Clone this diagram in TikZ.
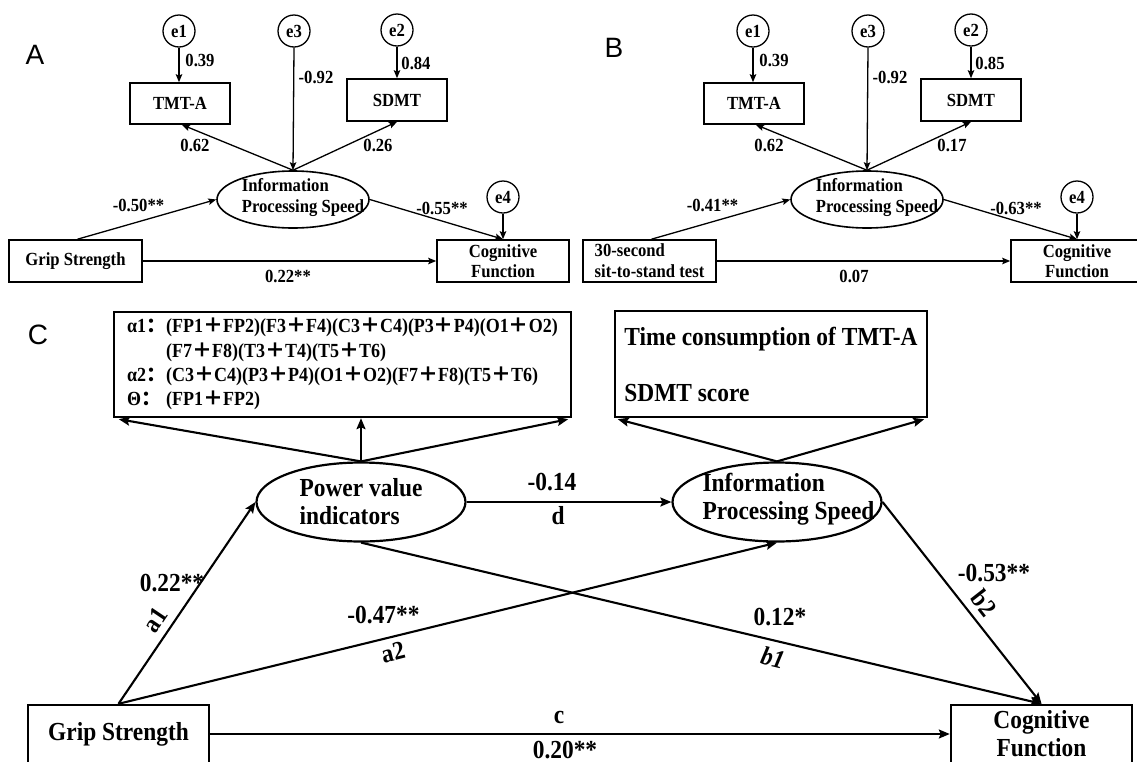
\documentclass[tikz,border=0pt]{standalone}
\usepackage{fontspec}
\setmainfont{Liberation Serif}[FakeStretch=0.9]
\setsansfont{Liberation Sans}
\newfontfamily\cjkf{Noto Sans CJK SC}
\usetikzlibrary{arrows.meta,shapes.geometric}
\newcommand{\pls}{{\cjkf ＋}}
\newcommand{\fcol}{{\cjkf ：}}
\begin{document}
\begin{tikzpicture}[x=1pt,y=-1pt,
  fA/.style={font=\fontsize{18.5}{20}\selectfont\bfseries},
  fC/.style={font=\fontsize{26}{28}\selectfont\bfseries},
  panel/.style={font=\fontsize{28}{30}\selectfont\sffamily,inner sep=0pt},
  err/.style={circle,draw,line width=1.3pt,minimum size=32pt,inner sep=0pt,fA},
  boxA/.style={draw,line width=1.6pt,inner sep=0pt,fA},
  ellA/.style={ellipse,draw,line width=1.6pt,inner sep=0pt,minimum width=152pt,minimum height=57pt},
  arA/.style={line width=1.3pt,-{Stealth[length=8pt,width=6.5pt,inset=1.5pt]}},
  lnA/.style={line width=1.3pt},
  lblA/.style={fA,inner sep=0pt},
  boxC/.style={draw,line width=2.4pt,inner sep=0pt,fC},
  ellC/.style={ellipse,draw,line width=2.2pt,inner sep=0pt,minimum width=209pt,minimum height=79pt},
  arC/.style={line width=2.1pt,-{Stealth[length=11pt,width=9pt,inset=2pt]}},
  lnC/.style={line width=2.1pt},
  lblC/.style={fC,inner sep=0pt}]
\fill[white] (0,0) rectangle (1137,761);
\useasboundingbox (0,0) rectangle (1137,761);

% ---------------- Panel A ----------------
\node[panel] (labA) at (35,55) {A};
\node[err] (e1A) at (179,31) {e1};
\node[err] (e3A) at (294,31) {e3};
\node[err] (e2A) at (397,30) {e2};
\node[boxA,minimum width=100pt,minimum height=41pt] (tmtA) at (180,103.5) {TMT-A};
\node[boxA,minimum width=100pt,minimum height=42pt] (sdmtA) at (397,100) {SDMT};
\node[ellA] (ipsA) at (293,199.5) {};
\node[lblA,align=left,font=\fontsize{18.5}{21}\selectfont\bfseries] (ipsAt) at (303,198) {Information\\Processing Speed};
\node[boxA,minimum width=133pt,minimum height=42pt] (gripA) at (75.5,261) {Grip Strength};
\node[boxA,minimum width=132pt,minimum height=42pt,align=center] (cogA) at (503,261) {Cognitive\\Function};
\node[err] (e4A) at (503,197) {e4};

\draw[arA] (e1A.south) -- (e1A.south |- tmtA.north);
\draw[arA] (e2A.south) -- (e2A.south |- sdmtA.north);
\draw[arA] (e3A.south) -- (ipsA.north);
\draw[arA] (ipsA.north) -- ([xshift=2pt]tmtA.south);
\draw[arA] (ipsA.north) -- (sdmtA.south);
\draw[arA] ([xshift=2pt]gripA.north) -- (ipsA.west);
\draw[arA] (ipsA.east) -- (cogA.north);
\draw[arA] (e4A.south) -- (cogA.north);
\draw[arA] (gripA.east) -- (cogA.west);

\node[lblA] (lA1) at (200,60) {0.39};
\node[lblA] (lA2) at (316,77) {-0.92};
\node[lblA] (lA3) at (416,63) {0.84};
\node[lblA] (lA4) at (195,145) {0.62};
\node[lblA] (lA5) at (378,145) {0.26};
\node[lblA] (lA6) at (138.5,205) {-0.50**};
\node[lblA] (lA7) at (442,208) {-0.55**};
\node[lblA] (lA8) at (288,276) {0.22**};

% ---------------- Panel B ----------------
\node[panel] (labB) at (614,48) {B};
\node[err] (e1B) at (753,31) {e1};
\node[err] (e3B) at (868,31) {e3};
\node[err] (e2B) at (971,30) {e2};
\node[boxA,minimum width=100pt,minimum height=41pt] (tmtB) at (754,103.5) {TMT-A};
\node[boxA,minimum width=100pt,minimum height=42pt] (sdmtB) at (971,100) {SDMT};
\node[ellA] (ipsB) at (867,199.5) {};
\node[lblA,align=left,font=\fontsize{18.5}{21}\selectfont\bfseries] (ipsBt) at (877,198) {Information\\Processing Speed};
\node[boxA,minimum width=133pt,minimum height=42pt,align=left,font=\fontsize{18.5}{21}\selectfont\bfseries] (stsB) at (649.5,261) {30-second\\sit-to-stand test};
\node[boxA,minimum width=132pt,minimum height=42pt,align=center] (cogB) at (1077,261) {Cognitive\\Function};
\node[err] (e4B) at (1077,197) {e4};

\draw[arA] (e1B.south) -- (e1B.south |- tmtB.north);
\draw[arA] (e2B.south) -- (e2B.south |- sdmtB.north);
\draw[arA] (e3B.south) -- (ipsB.north);
\draw[arA] (ipsB.north) -- ([xshift=2pt]tmtB.south);
\draw[arA] (ipsB.north) -- (sdmtB.south);
\draw[arA] ([xshift=2pt]stsB.north) -- (ipsB.west);
\draw[arA] (ipsB.east) -- (cogB.north);
\draw[arA] (e4B.south) -- (cogB.north);
\draw[arA] (stsB.east) -- (cogB.west);

\node[lblA] (lB1) at (774,60) {0.39};
\node[lblA] (lB2) at (890,77) {-0.92};
\node[lblA] (lB3) at (990,63) {0.85};
\node[lblA] (lB4) at (769,145) {0.62};
\node[lblA] (lB5) at (952,145) {0.17};
\node[lblA] (lB6) at (712.5,205) {-0.41**};
\node[lblA] (lB7) at (1016,208) {-0.63**};
\node[lblA] (lB8) at (854,276) {0.07};

% ---------------- Panel C ----------------
\node[panel] (labC) at (38,335) {C};
\node[boxC,minimum width=457pt,minimum height=105pt,font=\fontsize{20}{24.3}\selectfont\bfseries] (eeg) at (342.5,364.5) {%
\begin{tabular}{@{}l@{}l@{}}
α1\fcol & (FP1\pls FP2)(F3\pls F4)(C3\pls C4)(P3\pls P4)(O1\pls O2)\\
 & (F7\pls F8)(T3\pls T4)(T5\pls T6)\\
α2\fcol & (C3\pls C4)(P3\pls P4)(O1\pls O2)(F7\pls F8)(T5\pls T6)\\
Θ\fcol & (FP1\pls FP2)
\end{tabular}};
\node[boxC,minimum width=312pt,minimum height=106pt,align=left,font=\fontsize{26}{56}\selectfont\bfseries] (tests) at (771,364) {Time consumption of TMT-A\\SDMT score};

\node[ellC,fC,align=left,font=\fontsize{26}{28}\selectfont\bfseries] (pvi) at (361,502) {Power value\\indicators};
\node[ellC] (ipsC) at (777,502) {};
\node[lblC,align=left] (ipsCt) at (788.5,499) {Information\\Processing Speed};
\node[boxC,minimum width=181pt,minimum height=58pt] (gripC) at (118.5,734) {Grip Strength};
\node[boxC,minimum width=181pt,minimum height=58pt,align=center] (cogC) at (1041.5,734) {Cognitive\\Function};

\draw[arC] (pvi.north) -- ([xshift=6pt,yshift=-1pt]eeg.south west);
\draw[arC] (pvi.north) -- (pvi.north |- eeg.south);
\draw[arC] (pvi.north) -- ([xshift=-4pt,yshift=-1pt]eeg.south east);
\draw[arC] (ipsC.north) -- ([xshift=4pt,yshift=-1pt]tests.south west);
\draw[arC] (ipsC.north) -- ([xshift=-4pt,yshift=-1pt]tests.south east);
\draw[arC] (pvi.east) -- (ipsC.west);
\draw[arC] (gripC.north) -- (pvi.west);
\draw[arC] (gripC.north) -- (ipsC.south);
\draw[arC] (pvi.south) -- (cogC.north);
\draw[arC] (ipsC.east) -- (cogC.north);
\draw[arC] (gripC.east) -- (cogC.west);

\node[lblC] (lC1) at (172,583) {0.22**};
\node[lblC,rotate=56] (lC2) at (155,620) {a1};
\node[lblC] (lC3) at (383.5,615) {-0.47**};
\node[lblC,rotate=14] (lC4) at (393,652) {a2};
\node[lblC] (lC5) at (552,482) {-0.14};
\node[lblC] (lC6) at (558,516) {d};
\node[lblC] (lC7) at (780,617) {0.12*};
\node[lblC,rotate=-13.6] (lC8) at (773,658) {\itshape b1};
\node[lblC] (lC9) at (994,573) {-0.53**};
\node[lblC,rotate=-52] (lC10) at (984,603) {b2};
\node[lblC] (lC11) at (559,717) {c};
\node[lblC] (lC12) at (565,750) {0.20**};
\end{tikzpicture}
\end{document}
